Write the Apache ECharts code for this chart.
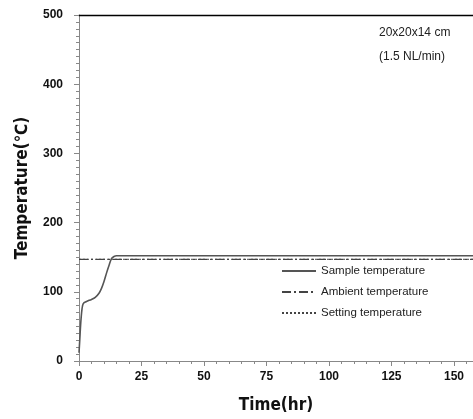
<!DOCTYPE html>
<html><head><meta charset="utf-8">
<script src="https://cdn.jsdelivr.net/npm/echarts@6/dist/echarts.min.js"></script>
<style>html,body{margin:0;padding:0;background:#fff}#c{width:473px;height:419px}</style>
</head><body><div id="c"></div>
<script>
const sampleTime = [0, 0.3, 0.7, 1.2, 1.7, 3, 5, 6.5, 8, 9, 10, 11, 12, 13, 14, 15, 20, 40, 80, 120, 157.6];
const sampleTemp = [12, 30, 55, 75, 83, 86, 89, 92, 98, 105, 115, 127, 138, 148, 151, 152, 152, 152, 152, 152, 152];
const ambientTime = [0, 157.6];
const ambientTemp = [147, 147];
const settingTime = [0, 157.6];
const settingTemp = [147, 147];
const xTicks = [0, 25, 50, 75, 100, 125, 150];
const yTicks = [0, 100, 200, 300, 400, 500];

const zip = (a, b) => a.map((v, i) => [v, b[i]]);
const chart = echarts.init(document.getElementById('c'));
chart.setOption({
  animation: false,
  grid: {left: 79, top: 15, right: 0, bottom: 58, containLabel: false},
  xAxis: [{
    type: 'value', min: 0, max: 157.6, interval: 25,
    name: 'Time(hr)', nameLocation: 'middle', nameGap: 36,
    nameTextStyle: {fontSize: 17, fontWeight: 'bold', color: '#111', fontFamily: 'DejaVu Sans Condensed, Liberation Sans'},
    axisLine: {lineStyle: {color: '#888', width: 1}},
    axisTick: {show: true, length: 5, lineStyle: {color: '#888'}},
    minorTick: {show: true, splitNumber: 5, length: 3, lineStyle: {color: '#888'}},
    axisLabel: {color: '#111', fontWeight: 'bold', fontSize: 12, margin: 10, showMaxLabel: false,
      formatter: v => xTicks.includes(v) ? String(v) : ''},
    splitLine: {show: false}
  }, {
    type: 'value', position: 'top', min: 0, max: 157.6,
    axisLine: {show: true, lineStyle: {color: '#000', width: 1.3}},
    axisTick: {show: false}, axisLabel: {show: false}, splitLine: {show: false}
  }],
  yAxis: {
    type: 'value', min: 0, max: 500, interval: 100,
    name: 'Temperature(℃)', nameLocation: 'middle', nameGap: 48, nameRotate: 90,
    nameTextStyle: {fontSize: 17, fontWeight: 'bold', color: '#111', fontFamily: 'DejaVu Sans Condensed, Liberation Sans'},
    axisLine: {show: true, lineStyle: {color: '#888', width: 1}},
    axisTick: {show: true, length: 5, lineStyle: {color: '#888'}},
    minorTick: {show: true, splitNumber: 10, length: 3, lineStyle: {color: '#888'}},
    axisLabel: {color: '#111', fontWeight: 'bold', fontSize: 12, margin: 16,
      formatter: v => yTicks.includes(v) ? String(v) : ''},
    splitLine: {show: false}
  },
  legend: {
    orient: 'vertical', left: 276, top: 260, itemWidth: 34, itemHeight: 10, itemGap: 9,
    itemStyle: {opacity: 0},
    textStyle: {fontSize: 11.5, color: '#222', fontFamily: 'Liberation Sans'},
    data: ['Sample temperature', 'Ambient temperature', 'Setting temperature']
  },
  graphic: [
    {type: 'text', left: 379, top: 27, style: {text: '20x20x14 cm', fontSize: 12, fill: '#222', fontFamily: 'Liberation Sans'}},
    {type: 'text', left: 379, top: 51, style: {text: '(1.5 NL/min)', fontSize: 12, fill: '#222', fontFamily: 'Liberation Sans'}}
  ],
  series: [
    {name: 'Setting temperature', type: 'line', data: zip(settingTime, settingTemp), symbol: 'none',
      lineStyle: {color: '#444', width: 1, type: [2, 2]}, itemStyle: {color: '#444'}},
    {name: 'Ambient temperature', type: 'line', data: zip(ambientTime, ambientTemp), symbol: 'none',
      lineStyle: {color: '#444', width: 1.2, type: [9, 3, 2, 3]}, itemStyle: {color: '#444'}},
    {name: 'Sample temperature', type: 'line', data: zip(sampleTime, sampleTemp), symbol: 'none', smooth: 0.3,
      lineStyle: {color: '#555', width: 1.6}, itemStyle: {color: '#555'}}
  ]
});
</script></body></html>
